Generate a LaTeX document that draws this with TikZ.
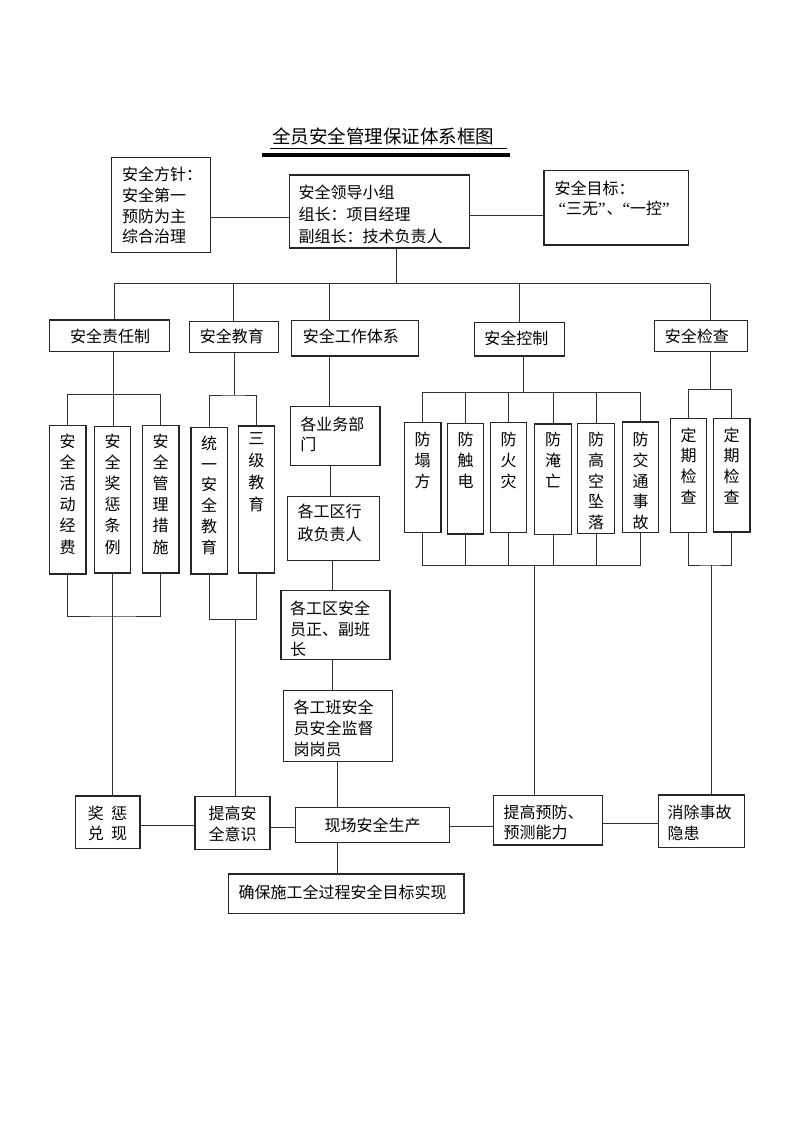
\documentclass[tikz,border=0pt]{standalone}
\usepackage{fontspec}
\newfontfamily\cjk{Noto Sans CJK SC}
\newfontfamily\qf{Liberation Serif}
\usetikzlibrary{fit}
\newcommand\bx[5]{\node[box, fit={(#2,#3) (#4,#5)}] (#1) {};}
\newcommand\myLQ{{\qf\fontsize{17}{19}\selectfont\char"201C}}
\newcommand\myRQ{{\qf\fontsize{17}{19}\selectfont\char"201D}}
\begin{document}
\begin{tikzpicture}[x=1pt,y=-1pt,
  box/.style={draw=black!85, line width=1.05pt, inner sep=0pt},
  ln/.style={draw=black!80, line width=0.9pt},
  tb/.style={font=\cjk\fontsize{16}{#1}\selectfont, inner sep=0pt, align=left, text=black},
  tb/.default=21,
  vt/.style={tb=#1, align=center, anchor=north},
  vt/.default=21.2]
\useasboundingbox[fill=white] (0,0) rectangle (800,1132);

% ---------- title ----------
\node[font=\cjk\fontsize{18.5}{22}\selectfont, inner sep=0pt] (title) at (383,136.7) {全员安全管理保证体系框图};
\coordinate (ulA) at (270,148.3); \coordinate (ulB) at (506.7,148.3);
\coordinate (ulC) at (262,155);   \coordinate (ulD) at (510,155);
\draw[line width=0.8pt] (ulA) -- (ulB);
\draw[line width=3.6pt] (ulC) -- (ulD);

% ---------- top row ----------
\bx{policy}{111.5}{157.3}{210.3}{252.7}
\bx{lead}{289.3}{175}{469.3}{248}
\bx{goal}{544}{170.7}{688.7}{245}
\node[tb=20.8, anchor=north west] (policyt) at (121.8,166.6) {安全方针：\\安全第一\\预防为主\\综合治理};
\node[tb=22.2, anchor=north west] (leadt) at (298.5,184.2) {安全领导小组\\组长：项目经理\\副组长：技术负责人};
\node[tb=19.5, anchor=north west] (goalt) at (554.3,180.8) {安全目标：\\\hspace{4pt}\myLQ 三无\myRQ\hspace{1pt}、\myLQ 一控\myRQ};

\coordinate (jL) at (0,217.3); \coordinate (jR) at (0,215);
\draw[ln] (policy.east |- jL) -- (lead.west |- jL);
\draw[ln] (lead.east |- jR) -- (goal.west |- jR);

% ---------- second row ----------
\bx{resp}{49.3}{320}{169.3}{351.7}
\bx{edu}{189.3}{321.7}{278.3}{352.7}
\bx{work}{291.7}{320.7}{418.3}{356}
\bx{ctrl}{474.3}{322.7}{564.3}{356}
\bx{insp}{654.3}{320.7}{747.3}{351.7}
\node[tb] (respt) at (110,336) {安全责任制};
\node[tb] (edut) at (231.8,336.7) {安全教育};
\node[tb] (workt) at (350.8,336.7) {安全工作体系};
\node[tb] (ctrlt) at (516.3,338.3) {安全控制};
\node[tb] (inspt) at (696.8,336.7) {安全检查};

\coordinate (tb0) at (396,283.5);
\coordinate (tb1) at (114,283.5);
\coordinate (tb2) at (233,283.5);
\coordinate (tb3) at (329.3,283.5);
\coordinate (tb4) at (519,283.5);
\coordinate (tb5) at (710,283.5);
\draw[ln] (tb0 |- lead.south) -- (tb0);
\draw[ln] (tb1) -- (tb5);
\draw[ln] (tb1) -- (tb1 |- resp.north);
\draw[ln] (tb2) -- (tb2 |- edu.north);
\draw[ln] (tb3) -- (tb3 |- work.north);
\draw[ln] (tb4) -- (tb4 |- ctrl.north);
\draw[ln] (tb5) -- (tb5 |- insp.north);

% ---------- column 1 : responsibility ----------
\bx{r1}{49.3}{425.7}{86}{574}
\bx{r2}{94.3}{426.7}{130.7}{573}
\bx{r3}{142.3}{425.7}{179}{573}
\node[vt] (r1t) at (67.7,433.5) {安\\全\\活\\动\\经\\费};
\node[vt] (r2t) at (112.5,433.5) {安\\全\\奖\\惩\\条\\例};
\node[vt] (r3t) at (160.7,433.5) {安\\全\\管\\理\\措\\施};
\coordinate (k1) at (113.3,394.3);
\draw[ln] (resp.south -| k1) -- (k1);
\draw[ln] (r1.north) |- (k1) -| (r3.north);
\draw[ln] (k1) -- (k1 |- r2.north);
\coordinate (k1b) at (112.5,616);
\draw[ln] (r1.south) |- (k1b) -| (r3.south);
\draw[ln] (r2.south) -- (k1b);

% ---------- column 2 : education ----------
\bx{e1}{191}{427.3}{227.3}{574}
\bx{e2}{238.3}{426}{274.3}{573}
\node[vt=20.8] (e1t) at (209.2,435.6) {统\\一\\安\\全\\教\\育};
\node[vt=22] (e2t) at (256.3,432.5) {三\\级\\教\\育};
\coordinate (k2) at (234,395);
\draw[ln] (edu.south -| k2) -- (k2);
\draw[ln] (e1.north) |- (k2) -| (e2.north);
\coordinate (k2b) at (235,619.3);
\draw[ln] (e1.south) |- (k2b) -| (e2.south);

% ---------- column 3 : work system ----------
\bx{w1}{290.7}{406.7}{380}{465.7}
\bx{w2}{287.7}{496.7}{379.3}{560.7}
\bx{w3}{281}{590.7}{390}{659.3}
\bx{w4}{283.7}{690.7}{392.3}{761.7}
\node[tb=20, anchor=north west] (w1t) at (300.2,416.5) {各业务部\\门};
\node[tb=22.3, anchor=north west] (w2t) at (297.5,504.2) {各工区行\\政负责人};
\node[tb=20.4, anchor=north west] (w3t) at (290,600.8) {各工区安全\\员正、副班\\长};
\node[tb=21.3, anchor=north west] (w4t) at (293.5,699.2) {各工班安全\\员安全监督\\岗岗员};
\coordinate (v1) at (329.3,0);
\coordinate (v2) at (330.7,0);
\coordinate (v3) at (332.3,0);
\coordinate (v4) at (337.7,0);
\draw[ln] (v1 |- work.south) -- (v1 |- w1.north);
\draw[ln] (v2 |- w1.south) -- (v2 |- w2.north);
\draw[ln] (v3 |- w2.south) -- (v3 |- w3.north);
\draw[ln] (v3 |- w3.south) -- (v3 |- w4.north);

% ---------- column 4 : control ----------
\bx{c1}{404.3}{422.7}{441}{532.3}
\bx{c2}{447.7}{423.3}{483.7}{534}
\bx{c3}{490.3}{422.7}{526.7}{532.3}
\bx{c4}{534.7}{424}{571.3}{534.3}
\bx{c5}{577.7}{423.3}{614.3}{533.3}
\bx{c6}{622.3}{422}{658.7}{532.3}
\node[vt=20.8] (c1t) at (422.7,431.8) {防\\塌\\方};
\node[vt=20.8] (c2t) at (465.7,431.8) {防\\触\\电};
\node[vt=20.8] (c3t) at (508.5,431.8) {防\\火\\灾};
\node[vt=20.8] (c4t) at (553,431.8) {防\\淹\\亡};
\node[vt=20.8] (c5t) at (596,431.8) {防\\高\\空\\坠\\落};
\node[vt=20.8] (c6t) at (640.5,431.8) {防\\交\\通\\事\\故};
\coordinate (k4) at (523,392.7);
\draw[ln] (ctrl.south -| k4) -- (k4);
\draw[ln] (c1.north) |- (k4) -| (c6.north);
\foreach \n in {c2,c3,c4,c5} \draw[ln] (\n.north) -- (\n.north |- k4);
\coordinate (k4b) at (534,565.7);
\draw[ln] (c1.south) |- (k4b) -| (c6.south);
\foreach \n in {c2,c3,c4,c5} \draw[ln] (\n.south) -- (\n.south |- k4b);

% ---------- column 5 : inspection ----------
\bx{i1}{670.7}{418.3}{706.7}{532.7}
\bx{i2}{713.3}{418.3}{750}{532}
\node[vt=20.6] (i1t) at (688.7,427.5) {定\\期\\检\\查};
\node[vt=20.6] (i2t) at (731.7,427.5) {定\\期\\检\\查};
\coordinate (k5) at (710,389.3);
\draw[ln] (insp.south -| k5) -- (k5);
\draw[ln] (i1.north) |- (k5) -| (i2.north);
\coordinate (k5b) at (711,565);
\draw[ln] (i1.south) |- (k5b) -| (i2.south);

% ---------- bottom row ----------
\bx{b1}{75.7}{796}{140}{848.3}
\bx{b2}{195}{796.7}{270}{849.3}
\bx{b3}{295.7}{807.3}{449.3}{842.7}
\bx{b4}{493.3}{795.7}{602.3}{845}
\bx{b5}{658.7}{795}{744.7}{847.3}
\bx{b6}{228.3}{874}{464}{913.3}
\node[vt=20.5] (b1t) at (107.5,805.6) {奖\hspace{0.45em}惩\\兑\hspace{0.45em}现};
\node[vt=21] (b2t) at (232.5,805.8) {提高安\\全意识};
\node[tb] (b3t) at (372.5,825) {现场安全生产};
\node[tb=20, anchor=north west] (b4t) at (503.5,804.5) {提高预防、\\预测能力};
\node[tb=21, anchor=north west] (b5t) at (667.5,804.5) {消除事故\\隐患};
\node[tb, anchor=west] (b6t) at (238.5,892.5) {确保施工全过程安全目标实现};

% drops to bottom row
\draw[ln] (k1b) -- (k1b |- b1.north);
\draw[ln] (k2b) -- (k2b |- b2.north);
\draw[ln] (v4 |- w4.south) -- (v4 |- b3.north);
\draw[ln] (k4b) -- (k4b |- b4.north);
\draw[ln] (k5b) -- (k5b |- b5.north);

% horizontal links
\coordinate (h1) at (0,825.7);
\coordinate (h2) at (0,827);
\coordinate (h3) at (0,826.5);
\coordinate (h4) at (0,823);
\draw[ln] (b1.east |- h1) -- (b2.west |- h1);
\draw[ln] (b2.east |- h2) -- (b3.west |- h2);
\draw[ln] (b3.east |- h3) -- (b4.west |- h3);
\draw[ln] (b4.east |- h4) -- (b5.west |- h4);
\coordinate (v6) at (337,0);
\draw[ln] (v6 |- b3.south) -- (v6 |- b6.north);
\end{tikzpicture}
\end{document}
